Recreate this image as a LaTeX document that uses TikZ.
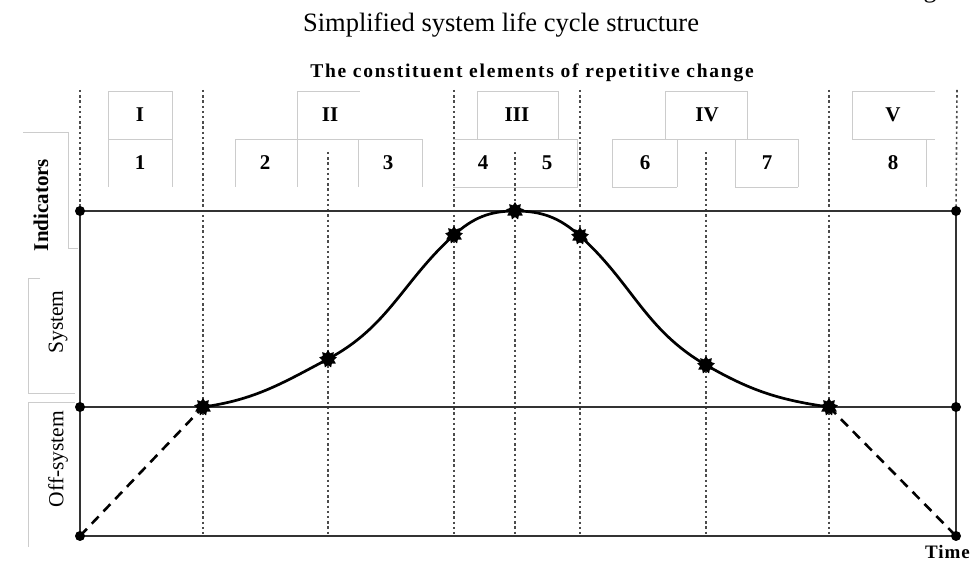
\documentclass[tikz,border=0pt]{standalone}
\usepackage{fontspec}
\setmainfont{Liberation Serif}
\usetikzlibrary{shapes.geometric}
\begin{document}
\begin{tikzpicture}[x=1pt,y=1pt,
  frameline/.style={line width=1.9pt, black!80},
  dotline/.style={line width=1.6pt, black!70, dash pattern=on 2.4pt off 2.8pt},
  graybox/.style={line width=0.8pt, black!20},
  dashline/.style={line width=2.6pt, black, dash pattern=on 10pt off 7pt},
  curveline/.style={line width=2.7pt, black},
  blob/.style={star, star points=9, star point ratio=1.5, fill=black, inner sep=0pt, minimum size=18pt},
  cornerdot/.style={circle, fill=black, inner sep=0pt, minimum size=10pt},
  lbl/.style={font=\fontsize{21}{23}\selectfont\bfseries, inner sep=0pt, anchor=base},
  sidelbl/.style={rotate=90, inner sep=0pt, font=\fontsize{21.5}{23}\selectfont}
]
\useasboundingbox (0,0) rectangle (977,564);
% caption
\node[font=\fontsize{26.5}{28}\selectfont, inner sep=0pt, anchor=base] (cap) at (501,532) {Simplified system life cycle structure};
\node[font=\fontsize{26}{28}\selectfont, anchor=base, inner sep=0pt] (gfrag) at (930,566) {g};
\node[font=\fontsize{19.5}{22}\selectfont\bfseries\addfontfeatures{LetterSpace=9}, inner sep=0pt, anchor=base] (title) at (532,486) {The constituent elements of repetitive change};
% gray table boxes
\draw[graybox] (108,377) -- (108,473) -- (172,473) -- (172,377);
\draw[graybox] (108,425) -- (172,425);
\draw[graybox] (297,377) -- (297,473) -- (360,473);
\draw[graybox] (235,377) -- (235,425) -- (422,425) -- (422,377);
\draw[graybox] (358,377) -- (358,425);
\draw[graybox] (477,425) -- (477,473) -- (558,473) -- (558,425);
\draw[graybox] (453,425) -- (577,425) -- (577,377) -- (453,377);
\draw[graybox] (665,425) -- (665,473) -- (747,473) -- (747,425);
\draw[graybox] (612,377) -- (612,425) -- (798,425) -- (798,377);
\draw[graybox] (677,377) -- (677,425);
\draw[graybox] (735,377) -- (735,425);
\draw[graybox] (612,377) -- (677,377);
\draw[graybox] (735,377) -- (798,377);
\draw[graybox] (852,425) -- (852,473) -- (935,473);
\draw[graybox] (852,425) -- (935,425);
\draw[graybox] (926,425) -- (926,377);
% side boxes
\draw[graybox] (23,432) -- (68,432) -- (68,316) -- (78,316);
\draw[graybox] (40,286) -- (28,286) -- (28,171) -- (75,171);
\draw[graybox] (75,162) -- (28,162) -- (28,17);
% header labels
\node[lbl] (rI) at (140,442) {I};
\node[lbl] (rII) at (330,442) {II};
\node[lbl] (rIII) at (517,442) {III};
\node[lbl] (rIV) at (707,442) {IV};
\node[lbl] (rV) at (893,442) {V};
\node[lbl] (n1) at (140,394) {1};
\node[lbl] (n2) at (265,394) {2};
\node[lbl] (n3) at (388,394) {3};
\node[lbl] (n4) at (483,394) {4};
\node[lbl] (n5) at (547,394) {5};
\node[lbl] (n6) at (645,394) {6};
\node[lbl] (n7) at (767,394) {7};
\node[lbl] (n8) at (893,394) {8};
% side labels
\node[sidelbl, font=\fontsize{21}{23}\selectfont\bfseries] (ind) at (41,359) {Indicators};
\node[sidelbl] (sys) at (58,242) {System};
\node[sidelbl] (off) at (58,105) {Off-system};
\node[font=\fontsize{19}{21}\selectfont\bfseries\addfontfeatures{LetterSpace=5}, anchor=base west, inner sep=0pt] (time) at (925,5) {Time};
% coordinates
\coordinate (tl) at (80,353); \coordinate (ml) at (80,157); \coordinate (bl) at (80,28);
\coordinate (tr) at (956,353); \coordinate (mr) at (956,157); \coordinate (br) at (956,28);
\coordinate (ltop) at (80,474); \coordinate (rtop) at (957,474);
\foreach \n/\x/\t in {a/203/474, b/328/412, c/454/474, d/515/412, e/580/474, f/706/412, g/829/474} {
  \coordinate (v\n t) at (\x,\t);
  \coordinate (v\n b) at (\x,28);
}
\coordinate (p1) at (203,157);
\coordinate (p2) at (328,205);
\coordinate (p3) at (454,329);
\coordinate (p4) at (515,353);
\coordinate (p5) at (580,328);
\coordinate (p6) at (706,199);
\coordinate (p7) at (829,157);
% dotted verticals
\foreach \n in {a,b,c,d,e,f,g} { \draw[dotline] (v\n t) -- (v\n b); }
\draw[dotline] (ltop) -- (tl);
\draw[dotline] (rtop) -- (tr);
% frame
\draw[frameline] (tl) -- (bl) -- (br) -- (tr) -- cycle;
\draw[frameline] (ml) -- (mr);
% dashed
\draw[dashline] (bl) -- (p1);
\draw[dashline] (p7) -- (br);
% curve
\draw[curveline] (p1) to[out=8,in=208] (p2) to[out=28,in=222] (p3) to[out=42,in=180] (p4) to[out=0,in=138] (p5) to[out=-42,in=150] (p6) to[out=-30,in=172] (p7);
% markers
\foreach \p in {p1,p2,p3,p4,p5,p6,p7} { \node[blob] at (\p) {}; }
\foreach \p in {tl,ml,bl,tr,mr,br} { \node[cornerdot] at (\p) {}; }
\end{tikzpicture}
\end{document}
